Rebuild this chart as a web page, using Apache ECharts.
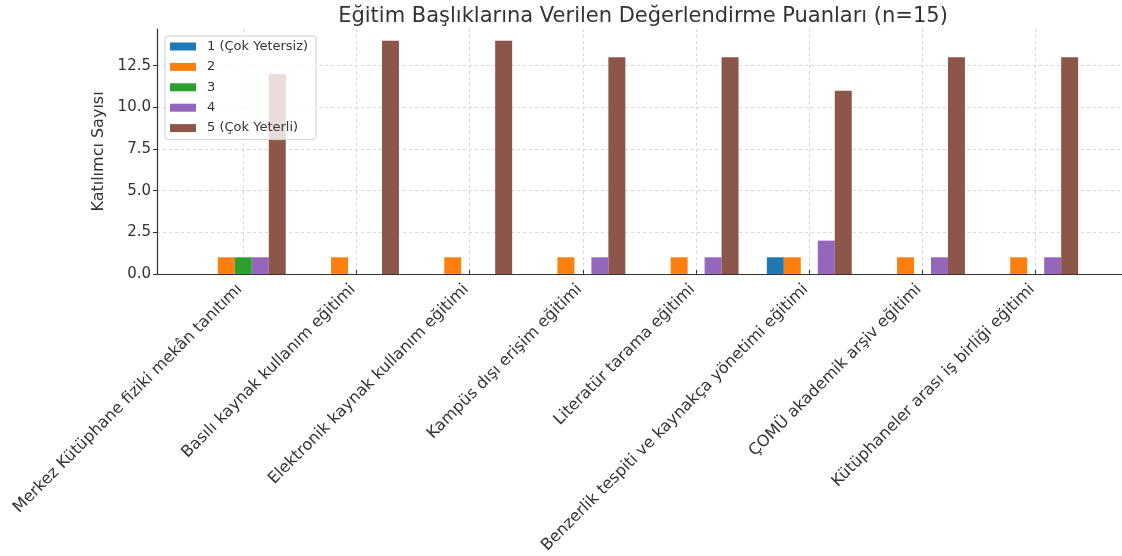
<!DOCTYPE html>
<html>
<head>
<meta charset="utf-8">
<title>Eğitim Başlıkları</title>
<script src="https://cdn.jsdelivr.net/npm/echarts@6/dist/echarts.min.js"></script>
<style>
    html, body { margin: 0; padding: 0; background: #fff; }
    #chart { width: 1122px; height: 556px; }
</style>
</head>
<body>
<div id="chart"></div>
<script>
// kategori başlıkları
const categories = [
    'Merkez Kütüphane fiziki mekân tanıtımı',
    'Basılı kaynak kullanım eğitimi',
    'Elektronik kaynak kullanım eğitimi',
    'Kampüs dışı erişim eğitimi',
    'Literatür tarama eğitimi',
    'Benzerlik tespiti ve kaynakça yönetimi eğitimi',
    'ÇOMÜ akademik arşiv eğitimi',
    'Kütüphaneler arası iş birliği eğitimi'
];

const seriesNames = ['1 (Çok Yetersiz)', '2', '3', '4', '5 (Çok Yeterli)'];

// puan başına katılımcı sayıları
const score1 = [0, 0, 0, 0, 0, 1, 0, 0];
const score2 = [1, 1, 1, 1, 1, 1, 1, 1];
const score3 = [1, 0, 0, 0, 0, 0, 0, 0];
const score4 = [1, 0, 0, 1, 1, 2, 1, 1];
const score5 = [12, 14, 14, 13, 13, 11, 13, 13];

const yTicks = [0, 2.5, 5, 7.5, 10, 12.5];
const xTicks = categories.map((c, i) => i);

const colors = ['#1f77b4', '#ff7f0e', '#2ca02c', '#9467bd', '#8c564b'];
const font = 'DejaVu Sans';

const allScores = [score1, score2, score3, score4, score5];

let myChart = echarts.init(document.getElementById('chart'));

let options = {
    animation: false,
    color: colors,
    textStyle: { fontFamily: font },
    title: {
        text: 'Eğitim Başlıklarına Verilen Değerlendirme Puanları (n=15)',
        left: 638,
        top: 1,
        textAlign: 'center',
        textStyle: { fontFamily: font, fontSize: 21, fontWeight: 'normal', color: '#333' }
    },
    legend: {
        orient: 'vertical',
        left: 165,
        top: 36,
        data: seriesNames,
        icon: 'rect',
        itemWidth: 26,
        itemHeight: 8,
        itemGap: 5.4,
        padding: [3, 8, 4, 5],
        backgroundColor: 'rgba(255,255,255,0.8)',
        borderColor: '#d0d0d0',
        borderWidth: 1,
        borderRadius: 3,
        textStyle: { fontFamily: font, fontSize: 13, lineHeight: 15, color: '#333', padding: [0, 0, 0, 6] }
    },
    grid: {
        left: 157,
        top: 29,
        width: 969,
        bottom: 282
    },
    xAxis: {
        type: 'value',
        min: -0.7625,
        max: 7.7625,
        axisLine: { show: true, lineStyle: { color: '#333', width: 1.2 } },
        axisTick: { show: true, inside: true, length: 4, customValues: xTicks, lineStyle: { color: '#333' } },
        axisLabel: {
            customValues: xTicks,
            rotate: 45,
            margin: -2,
            verticalAlign: 'top',
            padding: [0, 13, 0, 0],
            fontSize: 16,
            color: '#333',
            formatter: function (v) {
                return categories[Math.round(v)];
            }
        },
        splitLine: { show: true, lineStyle: { type: [3, 3], color: '#d8d8d8', width: 1 } }
    },
    yAxis: {
        type: 'value',
        min: 0,
        max: 14.7,
        name: 'Katılımcı Sayısı',
        nameLocation: 'middle',
        nameRotate: 90,
        nameGap: 42,
        nameTextStyle: { fontFamily: font, fontSize: 16, color: '#333' },
        axisLine: { show: true, onZero: false, lineStyle: { color: '#333', width: 1.2 } },
        axisTick: { show: true, length: 4, customValues: yTicks, lineStyle: { color: '#333' } },
        axisLabel: {
            customValues: yTicks,
            fontSize: 15,
            color: '#333',
            margin: 6,
            formatter: function (v) {
                return v.toFixed(1);
            }
        },
        splitLine: { show: true, lineStyle: { type: [3, 3], color: '#d8d8d8', width: 1 } }
    },
    series: seriesNames.map(function (name, k) {
        return {
            name: name,
            type: 'bar',
            barGap: '0%',
            barCategoryGap: '25%',
            data: allScores[k].map((v, i) => [i, v])
        };
    })
};

myChart.setOption(options);
</script>
</body>
</html>
